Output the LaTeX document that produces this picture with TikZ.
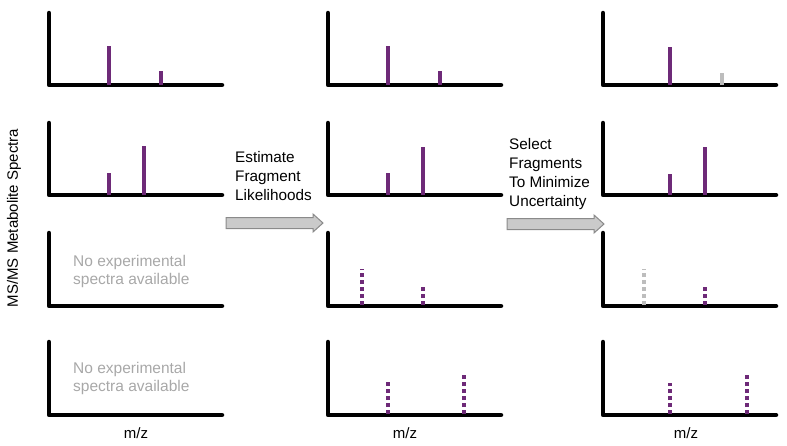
\documentclass[tikz,border=0pt]{standalone}
\usepackage{fontspec}
\setmainfont{Liberation Sans}
\definecolor{peakpurple}{HTML}{6E2A78}
\definecolor{peakgray}{HTML}{BDBDBD}
\definecolor{notegray}{HTML}{A8A8A8}
\definecolor{arrowfill}{HTML}{CACACA}
\definecolor{arrowdraw}{HTML}{8A8A8A}
\tikzset{
  axisline/.style={line width=4.5pt, line cap=round, line join=round, black},
  peak/.style={line width=4pt, peakpurple},
  grpeak/.style={line width=4pt, peakgray},
  dpeak/.style={line width=4pt, peakpurple, dash pattern=on 4pt off 3pt},
  dgpeak/.style={line width=4pt, peakgray, dash pattern=on 4pt off 3pt},
  blockarrow/.style={fill=arrowfill, draw=arrowdraw, line width=1pt, line join=miter},
  lbl/.style={font=\fontsize{15.3}{19}\selectfont, inner sep=0pt, align=left, anchor=north west},
  note/.style={font=\fontsize{15.5}{18}\selectfont, text=notegray, inner sep=0pt, align=left, anchor=north west},
  mz/.style={font=\fontsize{15}{18}\selectfont, inner sep=0pt},
}
\begin{document}
\begin{tikzpicture}[x=1pt,y=-1pt]
\useasboundingbox (0,0) rectangle (787,445);
% axes
\foreach \xa/\xb in {49/222, 328/501, 603/776}{
  \foreach \yt/\yb in {13/85, 123/195, 233/306, 342/415}{
    \draw[axisline] (\xa,\yt) -- (\xa,\yb) -- (\xb,\yb);
  }
}
% column 1 peaks
\draw[peak] (109,85) -- (109,46);
\draw[peak] (161,85) -- (161,71);
\draw[peak] (109,195) -- (109,173);
\draw[peak] (144,195) -- (144,146);
% column 2 peaks
\draw[peak] (388,85) -- (388,46);
\draw[peak] (440,85) -- (440,71);
\draw[peak] (388,195) -- (388,173);
\draw[peak] (423,195) -- (423,147);
\draw[dpeak] (362,305) -- (362,269);
\draw[dpeak] (423,305) -- (423,285);
\draw[dpeak] (388,414) -- (388,382);
\draw[dpeak] (464,414) -- (464,373);
% column 3 peaks
\draw[peak] (670,85) -- (670,47);
\draw[grpeak] (722,85) -- (722,73);
\draw[peak] (670,195) -- (670,174);
\draw[peak] (705,195) -- (705,147);
\draw[dgpeak] (644,305) -- (644,269);
\draw[dpeak] (705,305) -- (705,285);
\draw[dpeak] (670,414) -- (670,383);
\draw[dpeak] (747,414) -- (747,373);
% no spectra notes
\node[note] (n1) at (73,255) {No experimental\\spectra available};
\node[note] (n2) at (73,362) {No experimental\\spectra available};
% m/z labels
\node[mz] (mz1) at (136,433) {m/z};
\node[mz] (mz2) at (405,433) {m/z};
\node[mz] (mz3) at (686,433) {m/z};
% y label
\node[mz, rotate=90] (ylab) at (14,218) {MS/MS Metabolite Spectra};
% step labels
\node[lbl] (t1) at (235,151) {Estimate\\Fragment\\Likelihoods};
\node[lbl] (t2) at (509,138) {Select\\Fragments\\To Minimize\\Uncertainty};
% block arrows
\draw[blockarrow] (226,217.5) -- (313,217.5) -- (313,214) -- (323,223) -- (313,232) -- (313,228.5) -- (226,228.5) -- cycle;
\draw[blockarrow] (507,218.5) -- (594,218.5) -- (594,215) -- (604,224) -- (594,233) -- (594,229.5) -- (507,229.5) -- cycle;
\end{tikzpicture}
\end{document}
